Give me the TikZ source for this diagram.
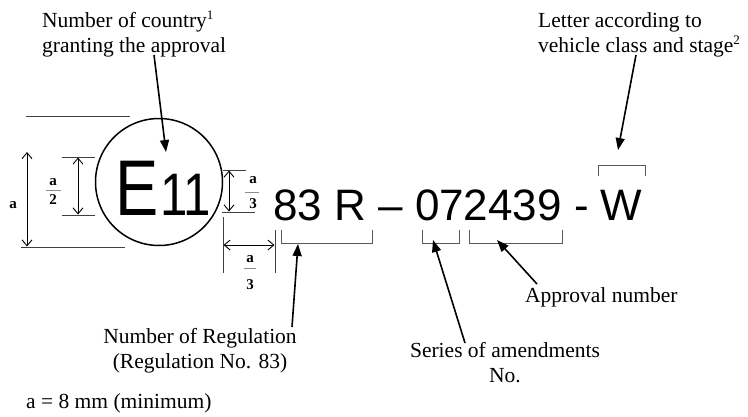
\documentclass[tikz,border=0pt]{standalone}
\usepackage{fontspec}
\setmainfont{Liberation Serif}
\newfontfamily\arialfont{Liberation Sans}
\usetikzlibrary{arrows.meta}
\begin{document}
\begin{tikzpicture}[x=1pt,y=-1pt,
 lbl/.style={font=\fontsize{21.5}{25}\selectfont, inner sep=0},
 dim/.style={line width=0.9pt, {Straight Barb[length=6pt,width=10pt]}-{Straight Barb[length=6pt,width=10pt]}},
 ext/.style={line width=0.8pt, black!75},
 brk/.style={line width=0.9pt, black!65},
 fline/.style={line width=0.6pt, black!45},
 conn/.style={line width=1.6pt, -{Triangle[length=12pt,width=9pt]}},
 frac/.style={font=\bfseries\fontsize{15}{15}\selectfont, inner sep=0},
 big/.style={font=\arialfont\fontsize{44}{44}\selectfont, inner sep=0, anchor=base west},
]
\useasboundingbox (0,0) rectangle (748,416);
\newcommand{\supsm}[1]{\raisebox{0.75ex}{\fontsize{13}{13}\selectfont #1}}

% texts
\node[lbl, anchor=base west] (country1) at (42,27) {Number of country\supsm{1}};
\node[lbl, anchor=base west] (country2) at (42,52) {granting the approval};
\node[lbl, anchor=base west] (letter1) at (538,27) {Letter according to};
\node[lbl, anchor=base west] (letter2) at (538,52) {vehicle class and stage\supsm{2}};
\node[lbl, anchor=base] (reg1) at (200,343) {Number of Regulation};
\node[lbl, anchor=base] (reg2) at (200,368) {(Regulation No. 83)};
\node[lbl, anchor=base] (ser1) at (505,357) {Series of amendments};
\node[lbl, anchor=base] (ser2) at (505,382) {No.};
\node[lbl, anchor=base west] (appr) at (525,302) {Approval number};
\node[lbl, anchor=base west] (amin) at (26,408) {a = 8 mm (minimum)};

% stamp
\node[circle, draw, line width=1.5pt, minimum size=127pt, inner sep=0] (stamp) at (159,182) {};
\node[inner sep=0, anchor=base west, font=\arialfont] (e11) at (115,215)
  {\scalebox{0.82}[1]{{\fontsize{79}{79}\selectfont E}\kern2pt{\fontsize{60}{60}\selectfont 11}}};

% code
\node[big] (code) at (273,220) {83 R \textendash{} 072439 - W};

% dimension lines, left
\draw[ext] (26,116) -- (130,116);
\draw[ext] (21,247) -- (125,247);
\draw[dim] (27,152) -- (27,246.5);
\node[frac] (la) at (13,205) {a};
\draw[ext] (62,157) -- (95,157);
\draw[ext] (62,215) -- (95,215);
\draw[dim] (78,157.5) -- (78,214.5);
\node[frac] (a2a) at (53,182) {a};
\draw[fline] (46,190) -- (61,190);
\node[frac] (a2b) at (53,200) {2};

% a/3 right
\draw[ext] (223,170) -- (246,170);
\draw[ext] (222,212) -- (255,212);
\draw[dim] (229,170.5) -- (229,211.5);
\node[frac] (a3a) at (253,180) {a};
\draw[fline] (245,192) -- (259,192);
\node[frac] (a3b) at (253,204) {3};

% a/3 bottom
\draw[ext] (223,217) -- (223,273);
\draw[ext] (275,230) -- (275,273);
\draw[dim] (223.5,245) -- (274.5,245);
\node[frac] (a3c) at (250,259) {a};
\draw[fline] (244,268) -- (256,268);
\node[frac] (a3d) at (250,285) {3};

% brackets
\draw[brk] (281,230) -- (281,243) -- (372,243) -- (372,230);
\draw[brk] (422,230) -- (422,243) -- (459,243) -- (459,230);
\draw[brk] (469,230) -- (469,243) -- (562,243) -- (562,230);
\draw[brk] (598,176) -- (598,165) -- (645,165) -- (645,176);

% connectors
\coordinate (cA) at (154,55);
\coordinate (tA) at (166,152);
\coordinate (cB) at (636,55);
\coordinate (tB) at (618,150);
\coordinate (cC) at (292,327);
\coordinate (tC) at (298,244);
\coordinate (cD) at (465,343);
\coordinate (tD) at (433,240);
\coordinate (cE) at (537,284);
\coordinate (tE) at (497,240);
\draw[conn] (cA) -- (tA);
\draw[conn] (cB) -- (tB);
\draw[conn] (cC) -- (tC);
\draw[conn] (cD) -- (tD);
\draw[conn] (cE) -- (tE);
\end{tikzpicture}
\end{document}
